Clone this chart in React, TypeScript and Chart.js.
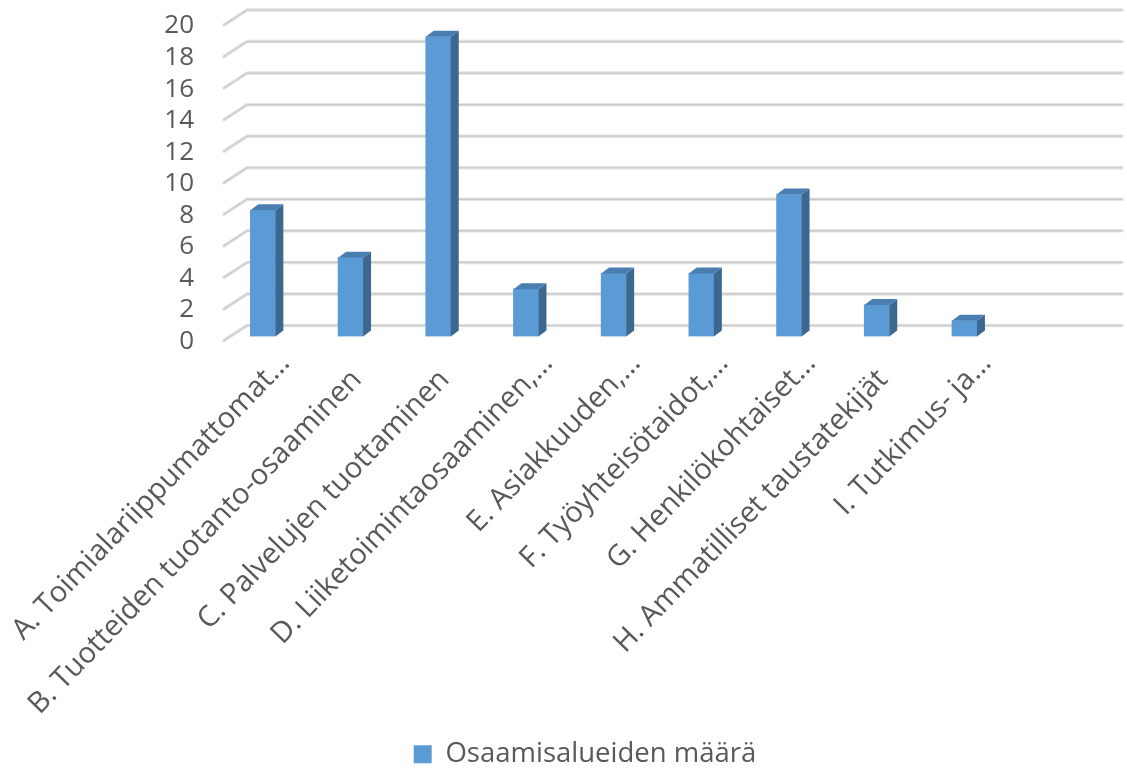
import React, { useEffect, useRef } from "react";
import { Chart, registerables } from "chart.js";

Chart.register(...registerables);

const categories: string[] = [
  "A. Toimialariippumattomat…",
  "B. Tuotteiden tuotanto-osaaminen",
  "C. Palvelujen tuottaminen",
  "D. Liiketoimintaosaaminen,…",
  "E. Asiakkuuden,…",
  "F. Työyhteisötaidot,…",
  "G. Henkilökohtaiset…",
  "H. Ammatilliset taustatekijät",
  "I. Tutkimus- ja…",
  "",
];
const seriesName = "Osaamisalueiden määrä";
const values: (number | null)[] = [8, 5, 19, 3, 4, 4, 9, 2, 1, null];
const yTicks: number[] = [0, 2, 4, 6, 8, 10, 12, 14, 16, 18, 20];

const FRONT = "#5B9BD5";
const SIDE = "#3C6890";
const TOP = "#4A7EB2";
const TEXT = "#595959";

const threeD = {
  id: "threeD",
  beforeDatasetsDraw(chart: any) {
    const { ctx, chartArea } = chart;
    const y = chart.scales.y;
    const fx = chartArea.left + 5;
    const bx = chartArea.left + 28;
    const rx = chartArea.right + 26;
    ctx.save();
    for (const t of yTicks) {
      const py = y.getPixelForValue(t);
      const pts = [
        [fx, py + 4],
        [bx, py - 11],
        [rx, py - 11],
      ];
      const stroke = (w: number, c: string) => {
        ctx.beginPath();
        ctx.moveTo(pts[0][0], pts[0][1]);
        ctx.lineTo(pts[1][0], pts[1][1]);
        ctx.lineTo(pts[2][0], pts[2][1]);
        ctx.lineWidth = w;
        ctx.strokeStyle = c;
        ctx.lineJoin = "round";
        ctx.lineCap = "round";
        ctx.stroke();
      };
      stroke(3.5, "#e3e3e3");
      stroke(1.2, "#c8c8c8");
    }
    ctx.restore();
  },
  afterDatasetsDraw(chart: any) {
    const { ctx } = chart;
    const meta = chart.getDatasetMeta(0);
    const dx = 8;
    const dy = -6;
    ctx.save();
    meta.data.forEach((bar: any, i: number) => {
      if (values[i] === null || values[i] === undefined) return;
      const { x, y, base, width } = bar.getProps(["x", "y", "base", "width"], true);
      const l = x - width / 2;
      const r = x + width / 2;
      ctx.beginPath();
      ctx.moveTo(r, y);
      ctx.lineTo(r + dx, y + dy);
      ctx.lineTo(r + dx, base + dy);
      ctx.lineTo(r, base);
      ctx.closePath();
      ctx.fillStyle = SIDE;
      ctx.fill();
      ctx.beginPath();
      ctx.moveTo(l, y);
      ctx.lineTo(l + dx, y + dy);
      ctx.lineTo(r + dx, y + dy);
      ctx.lineTo(r, y);
      ctx.closePath();
      ctx.fillStyle = TOP;
      ctx.fill();
    });
    ctx.restore();
  },
};

export default function App() {
  const ref = useRef<HTMLCanvasElement | null>(null);
  useEffect(() => {
    if (!ref.current) return;
    Chart.defaults.font.family = "'Open Sans', sans-serif";
    const chart = new Chart(ref.current, {
      type: "bar",
      data: {
        labels: categories,
        datasets: [
          {
            label: seriesName,
            data: values,
            backgroundColor: FRONT,
            borderWidth: 0,
            barThickness: 25,
          },
        ],
      },
      plugins: [threeD],
      options: {
        animation: false,
        responsive: false,
        maintainAspectRatio: false,
        layout: { padding: { left: 74, right: 31, top: 21, bottom: -8 } },
        plugins: {
          tooltip: { enabled: false },
          legend: {
            position: "bottom",
            labels: {
              color: TEXT,
              font: { size: 27.5 },
              boxWidth: 18,
              boxHeight: 18,
              padding: 0,
            },
          },
        },
        scales: {
          x: {
            grid: { display: false, drawTicks: false },
            border: { display: false },
            ticks: {
              color: TEXT,
              font: { size: 29 },
              maxRotation: 46,
              minRotation: 46,
              autoSkip: false,
              labelOffset: 22,
              padding: 10,
              callback: (_v: any, i: number) => {
                const l = categories[i];
                return l.endsWith("…") || l === "" ? l : l + "   ";
              },
            },
            afterFit(scale: any) {
              scale.height = 404;
              scale.paddingLeft = 0;
              scale.paddingRight = 0;
            },
          },
          y: {
            min: 0,
            max: 20,
            grid: { display: false, drawTicks: false },
            border: { display: false },
            ticks: {
              stepSize: 2,
              autoSkip: false,
              color: TEXT,
              font: { size: 26 },
              padding: 25,
              labelOffset: 5,
            },
            afterFit(scale: any) {
              scale.width = 145;
              scale.paddingTop = 0;
              scale.paddingBottom = 0;
            },
          },
        },
      },
    });
    return () => chart.destroy();
  }, []);
  return (
    <div style={{ position: "fixed", left: 0, top: 0, width: 1127, height: 770, background: "#fff" }}>
      <canvas ref={ref} width={1127} height={770} style={{ width: 1127, height: 770 }} />
    </div>
  );
}
